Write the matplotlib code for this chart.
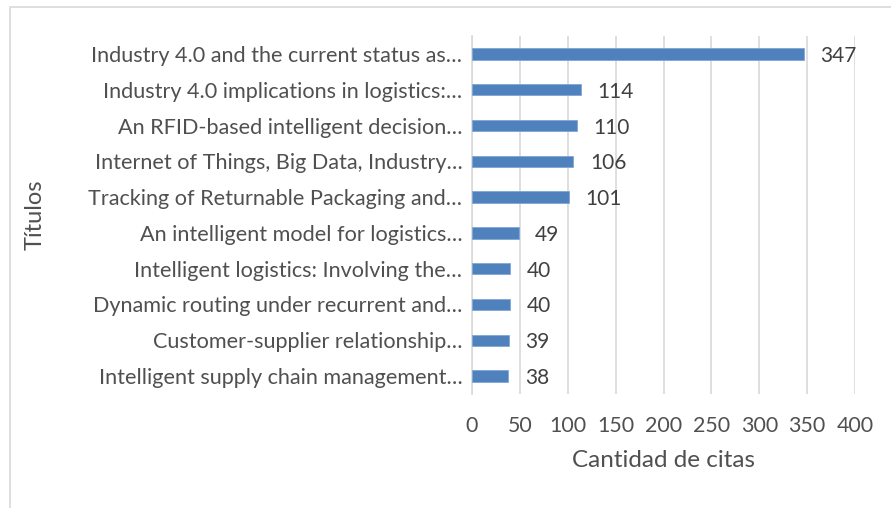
import matplotlib.pyplot as plt
from matplotlib.patches import Rectangle

# Datos del gráfico
titulos = [
    "Industry 4.0 and the current status as…",
    "Industry 4.0 implications in logistics:…",
    "An RFID-based intelligent decision…",
    "Internet of Things, Big Data, Industry…",
    "Tracking of Returnable Packaging and…",
    "An intelligent model for logistics…",
    "Intelligent logistics: Involving the…",
    "Dynamic routing under recurrent and…",
    "Customer-supplier relationship…",
    "Intelligent supply chain management…",
]
citas = [347, 114, 110, 106, 101, 49, 40, 40, 39, 38]
ticks_x = [0, 50, 100, 150, 200, 250, 300, 350, 400]

plt.rcParams['font.family'] = ['Lato', 'DejaVu Sans']
gris_texto = "#505050"

fig = plt.figure(figsize=(8.91, 5.08), dpi=100)
ax = fig.add_axes([472 / 891, 1 - 394 / 508, 383 / 891, 358 / 508])

posiciones = list(range(len(titulos)))
ax.barh(posiciones, citas, height=0.32, color="#4F81BD", edgecolor="#7FA6D6",
        linewidth=0.6, zorder=3)
for y, v in zip(posiciones, citas):
    ax.text(v + 17, y, str(v), va="center_baseline", ha="left", fontsize=15,
            color="#404040")

ax.set_ylim(9.5, -0.5)
ax.set_xlim(0, 400)
ax.set_yticks(posiciones)
ax.set_yticklabels(titulos, fontsize=15.6, color=gris_texto)
ax.set_xticks(ticks_x)
ax.set_xticklabels([str(t) for t in ticks_x], fontsize=15.4, color=gris_texto)
ax.tick_params(axis="both", length=0)
ax.tick_params(axis="y", pad=7)
ax.tick_params(axis="x", pad=16)

ax.grid(axis="x", color="#D9D9D9", linewidth=1.2, zorder=0)
for lado in ["top", "right", "bottom"]:
    ax.spines[lado].set_visible(False)
ax.spines["left"].set_color("#D9D9D9")
ax.spines["left"].set_linewidth(1.2)

ax.set_xlabel("Cantidad de citas", fontsize=17.5, color=gris_texto, labelpad=10)
fig.text(35 / 891, 1 - 215 / 508, "Títulos", rotation=90, fontsize=17,
         color=gris_texto, ha="center", va="center")

# Borde del área del gráfico
fig.patches.append(Rectangle((10 / 891, -0.1), 1.0, 1 - 7 / 508 + 0.1,
                             transform=fig.transFigure, fill=False,
                             edgecolor="#D9D9D9", linewidth=1.2))

fig.savefig("out.png", dpi=100)
